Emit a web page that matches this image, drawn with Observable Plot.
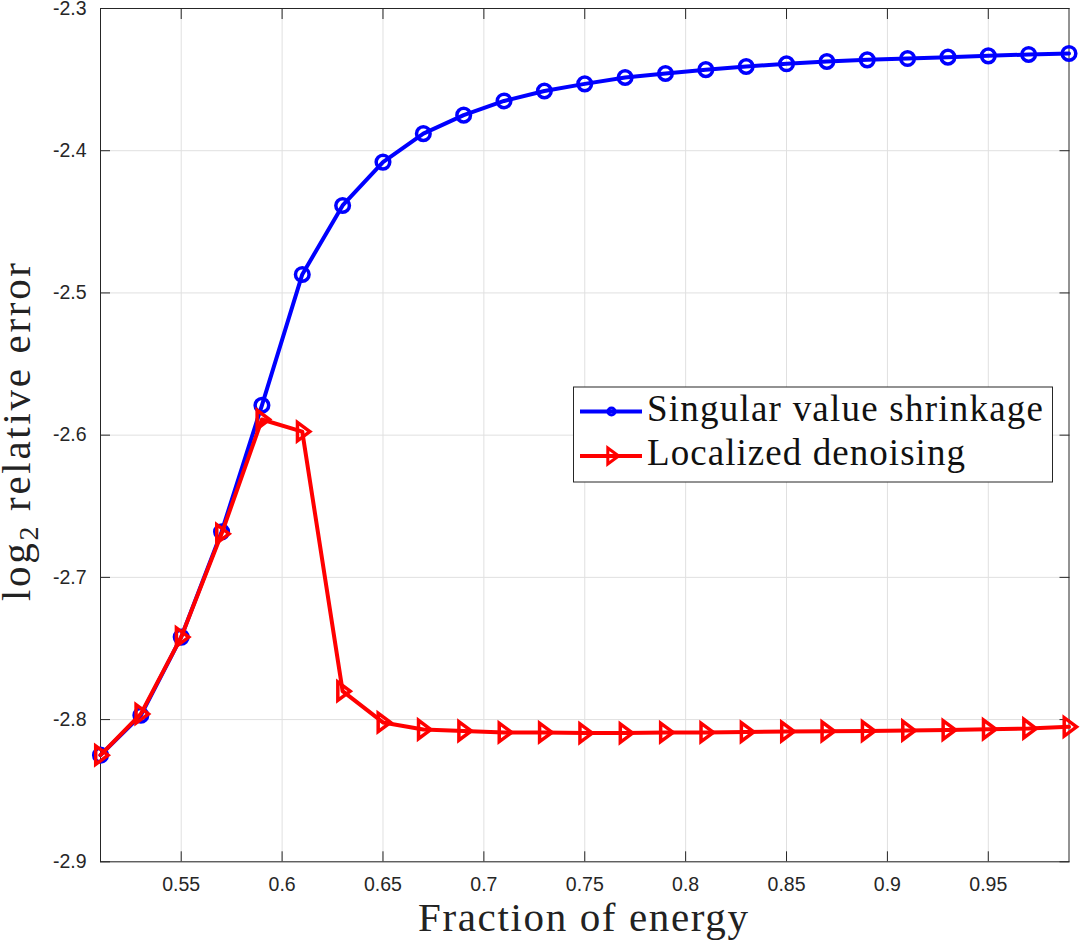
<!DOCTYPE html>
<html>
<head>
<meta charset="utf-8">
<script src="https://cdn.jsdelivr.net/npm/d3@7"></script>
<script src="https://cdn.jsdelivr.net/npm/@observablehq/plot@0.6"></script>
<style>
  html, body { margin: 0; padding: 0; background: #fff; }
  #chart { width: 1080px; height: 944px; }
</style>
</head>
<body>
<div id="chart"></div>
<script>
// Fraction of energy retained (x) and log2 relative error for each method
const energy = [0.51, 0.53, 0.55, 0.57, 0.59, 0.61, 0.63, 0.65, 0.67, 0.69, 0.71, 0.73,
  0.75, 0.77, 0.79, 0.81, 0.83, 0.85, 0.87, 0.89, 0.91, 0.93, 0.95, 0.97, 0.99];
const shrinkageError = [-2.825, -2.797, -2.742, -2.668, -2.579, -2.487, -2.4385, -2.408,
  -2.388, -2.375, -2.365, -2.358, -2.353, -2.3485, -2.3457, -2.343, -2.3408, -2.3389,
  -2.3373, -2.3361, -2.3352, -2.3342, -2.3333, -2.3323, -2.3316];
const localizedError = [-2.825, -2.796, -2.742, -2.6694, -2.589, -2.5975, -2.780, -2.802,
  -2.807, -2.808, -2.809, -2.809, -2.8095, -2.8095, -2.809, -2.809, -2.8087, -2.8084,
  -2.8082, -2.808, -2.8077, -2.8073, -2.8068, -2.8063, -2.8051];
const xTicks = [0.55, 0.6, 0.65, 0.7, 0.75, 0.8, 0.85, 0.9, 0.95];
const yTicks = [-2.9, -2.8, -2.7, -2.6, -2.5, -2.4, -2.3];
const seriesNames = ["Singular value shrinkage", "Localized denoising"];
const seriesColors = ["#0000ff", "#ff0000"];

const shrinkage = energy.map((x, i) => ({x, y: shrinkageError[i]}));
const localized = energy.map((x, i) => ({x, y: localizedError[i]}));

// right-pointing triangle marker
const triangleRight = {
  draw(ctx, size) {
    const r = Math.sqrt(size / Math.PI);
    ctx.moveTo(r * 0.95, 0);
    ctx.lineTo(-r * 0.6, -r * 1.15);
    ctx.lineTo(-r * 0.6, r * 1.15);
    ctx.closePath();
  }
};

const axisColor = "#262626";
const gridColor = "#e0e0e0";
const tickFont = 19.5;
const lineWidth = 4;
const fmt = d => String(d);

const chart = Plot.plot({
  width: 1080,
  height: 944,
  marginLeft: 100,
  marginRight: 11.5,
  marginTop: 8,
  marginBottom: 82.7,
  x: {domain: [0.51, 0.99], label: null},
  y: {domain: [-2.9, -2.3], label: null},
  style: {fontFamily: "'Liberation Sans', Arial, sans-serif", color: axisColor, background: "#fff"},
  marks: [
    Plot.gridX(xTicks, {stroke: gridColor, strokeOpacity: 1}),
    Plot.gridY(yTicks, {stroke: gridColor, strokeOpacity: 1}),
    Plot.axisX(xTicks, {anchor: "bottom", tickSize: 0, tickPadding: 15, tickFormat: fmt, label: null, fill: axisColor, fontSize: tickFont}),
    Plot.axisX(xTicks, {anchor: "bottom", tickSize: -10, tickFormat: () => "", label: null, stroke: axisColor}),
    Plot.axisX(xTicks, {anchor: "top", tickSize: -10, tickFormat: () => "", label: null, stroke: axisColor}),
    Plot.axisY(yTicks, {anchor: "left", tickSize: 0, tickPadding: 14, tickFormat: fmt, label: null, fill: axisColor, fontSize: tickFont}),
    Plot.axisY(yTicks, {anchor: "left", tickSize: -10, tickFormat: () => "", label: null, stroke: axisColor}),
    Plot.axisY(yTicks, {anchor: "right", tickSize: -10, tickFormat: () => "", label: null, stroke: axisColor}),
    Plot.frame({stroke: axisColor, strokeWidth: 1}),
    Plot.line(shrinkage, {x: "x", y: "y", stroke: seriesColors[0], strokeWidth: lineWidth}),
    Plot.dot(shrinkage, {x: "x", y: "y", r: 6.8, stroke: seriesColors[0], strokeWidth: 3.5, fill: "none"}),
    Plot.line(localized, {x: "x", y: "y", stroke: seriesColors[1], strokeWidth: lineWidth}),
    Plot.dot(localized, {x: "x", y: "y", r: 8, symbol: triangleRight, stroke: seriesColors[1], strokeWidth: 3.5, fill: "none"})
  ]
});

document.getElementById("chart").appendChild(chart);

// axis titles and legend in a LaTeX-like serif face
const svg = d3.select(chart);
const serif = "'Liberation Serif', 'DejaVu Serif', serif";
const titleSize = 41;
const legendSize = 37;

svg.append("text")
  .attr("x", 583).attr("y", 931)
  .attr("text-anchor", "middle")
  .attr("font-family", serif).attr("font-size", titleSize)
  .attr("textLength", 330).attr("lengthAdjust", "spacing")
  .attr("fill", "#222")
  .text("Fraction of energy");

const yLabel = svg.append("text")
  .attr("transform", "translate(30,432) rotate(-90)")
  .attr("text-anchor", "middle")
  .attr("font-family", serif).attr("font-size", titleSize)
  .attr("textLength", 338).attr("lengthAdjust", "spacing")
  .attr("fill", "#222");
yLabel.append("tspan").text("log");
yLabel.append("tspan").attr("font-size", 28).attr("dy", 8).text("2");
yLabel.append("tspan").attr("dy", -8).text(" relative error");

const legend = svg.append("g").attr("text-anchor", "start");
legend.append("rect")
  .attr("x", 573.5).attr("y", 387).attr("width", 479).attr("height", 95)
  .attr("fill", "#fff").attr("stroke", axisColor).attr("stroke-width", 1);
const rows = [411.5, 456];
const textWidths = [396, 318];
rows.forEach((cy, i) => {
  legend.append("line")
    .attr("x1", 580).attr("x2", 642).attr("y1", cy).attr("y2", cy)
    .attr("stroke", seriesColors[i]).attr("stroke-width", lineWidth);
  if (i === 0) {
    legend.append("circle").attr("cx", 611.5).attr("cy", cy).attr("r", 3.5)
      .attr("fill", "none").attr("stroke", seriesColors[i]).attr("stroke-width", 3);
  } else {
    legend.append("path")
      .attr("d", d3.symbol(triangleRight, 7 * 7 * Math.PI)())
      .attr("transform", `translate(612,${cy})`)
      .attr("fill", "none").attr("stroke", seriesColors[i]).attr("stroke-width", 3);
  }
  legend.append("text")
    .attr("x", 647).attr("y", cy + 9)
    .attr("text-anchor", "start")
    .attr("font-family", serif).attr("font-size", legendSize)
    .attr("textLength", textWidths[i]).attr("lengthAdjust", "spacing")
    .attr("fill", "#111")
    .text(seriesNames[i]);
});
</script>
</body>
</html>
